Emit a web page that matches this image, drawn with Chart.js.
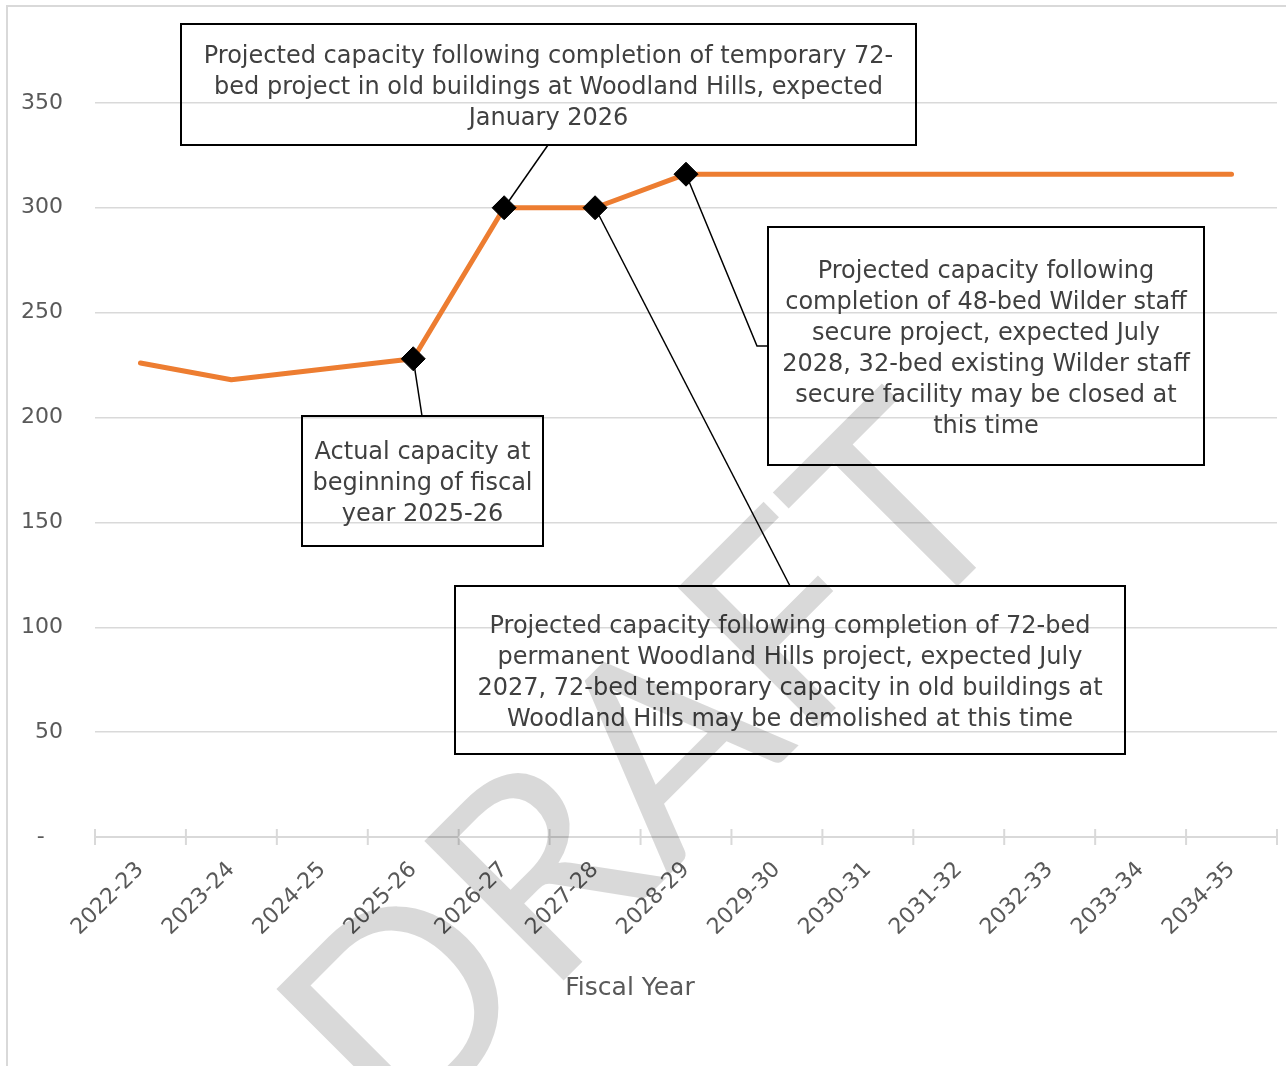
<!DOCTYPE html>
<html>
<head>
<meta charset="utf-8">
<script src="https://cdn.jsdelivr.net/npm/chart.js@4.4.1/dist/chart.umd.min.js"></script>
<style>
  html, body { margin: 0; padding: 0; background: #fff; overflow: hidden; }
  #wrap { position: absolute; left: 0; top: -2px; width: 1286px; height: 1068px; }
</style>
</head>
<body>
<div id="wrap"><canvas id="capChart"></canvas></div>
<script>
// chart data
const categories = ['2022-23', '2023-24', '2024-25', '2025-26', '2026-27', '2027-28', '2028-29',
                    '2029-30', '2030-31', '2031-32', '2032-33', '2033-34', '2034-35'];
const capacity = [226, 218, 223, 228, 300, 300, 316, 316, 316, 316, 316, 316, 316];
const yTickValues = [0, 50, 100, 150, 200, 250, 300, 350];
const xTitle = 'Fiscal Year';
const watermark = 'DRAFT';

const noteActual = ['Actual capacity at', 'beginning of fiscal', 'year 2025-26'];
const noteTemporary = ['Projected capacity following completion of temporary 72-',
                       'bed project in old buildings at Woodland Hills, expected',
                       'January 2026'];
const notePermanent = ['Projected capacity following completion of 72-bed',
                       'permanent Woodland Hills project, expected July',
                       '2027, 72-bed temporary capacity in old buildings at',
                       'Woodland Hills may be demolished at this time'];
const noteWilder = ['Projected capacity following',
                    'completion of 48-bed Wilder staff',
                    'secure project, expected July',
                    '2028, 32-bed existing Wilder staff',
                    'secure facility may be closed at',
                    'this time'];

// callout layout (page pixels): box = [left, top, width, height]
const OFFSET_Y = 2; // canvas sits 2px above the page top
const callouts = [
  { at: '2025-26', lines: noteActual, box: [302, 416, 241, 130], from: [422, 416] },
  { at: '2026-27', lines: noteTemporary, box: [181, 24, 735, 121], from: [548, 145] },
  { at: '2027-28', lines: notePermanent, box: [455, 586, 670, 168], from: [790, 586] },
  { at: '2028-29', lines: noteWilder, box: [768, 227, 436, 238], from: [768, 346], elbow: [757, 346] }
];
const marked = callouts.map(c => c.at);

const FONT = '"DejaVu Sans", sans-serif';
const GRID = '#d9d9d9';

const calloutPlugin = {
  id: 'callouts',
  beforeDraw(chart) {
    const c = chart.ctx;
    c.save();
    c.strokeStyle = GRID;
    c.lineWidth = 2;
    c.beginPath();
    c.moveTo(7, 2000);
    c.lineTo(7, 6 + OFFSET_Y);
    c.lineTo(2000, 6 + OFFSET_Y);
    c.stroke();
    c.restore();
  },
  beforeDatasetsDraw(chart) {
    const c = chart.ctx;
    const xs = chart.scales.x, ys = chart.scales.y;
    // tick marks across the category axis
    c.save();
    c.strokeStyle = GRID;
    c.lineWidth = 2;
    const axisY = ys.getPixelForValue(0);
    for (let i = 0; i <= categories.length; i++) {
      const px = xs.getPixelForValue(i - 0.5);
      c.beginPath();
      c.moveTo(px, axisY - 8);
      c.lineTo(px, axisY + 8);
      c.stroke();
    }
    c.restore();

    c.save();
    callouts.forEach(co => {
      const idx = categories.indexOf(co.at);
      const px = xs.getPixelForValue(idx);
      const py = ys.getPixelForValue(capacity[idx]);
      c.strokeStyle = '#000';
      c.lineWidth = 1.5;
      c.beginPath();
      c.moveTo(px, py);
      if (co.elbow) c.lineTo(co.elbow[0], co.elbow[1] + OFFSET_Y);
      c.lineTo(co.from[0], co.from[1] + OFFSET_Y);
      c.stroke();

      const [bx, by, bw, bh] = co.box;
      c.lineWidth = 2;
      c.strokeRect(bx, by + OFFSET_Y, bw, bh);

      c.fillStyle = '#404040';
      c.font = '24px ' + FONT;
      c.textAlign = 'center';
      c.textBaseline = 'middle';
      const lh = 31;
      const cy = by + OFFSET_Y + bh / 2 + 3;
      const first = cy - (co.lines.length - 1) * lh / 2;
      co.lines.forEach((t, i) => c.fillText(t, bx + bw / 2, first + i * lh));
    });
    c.restore();
  },
  afterDraw(chart) {
    const c = chart.ctx;
    c.save();
    c.fillStyle = '#595959';
    c.font = '25px ' + FONT;
    c.textAlign = 'center';
    c.textBaseline = 'middle';
    c.fillText(xTitle, 630, 988 + OFFSET_Y);

    // watermark laid over the whole chart
    const size = 275;
    c.translate(641, 763 + OFFSET_Y);
    c.rotate(-Math.PI / 4);
    c.font = size + 'px Lato, sans-serif';
    c.fillStyle = 'rgba(0,0,0,0.15)';
    c.textAlign = 'center';
    c.textBaseline = 'alphabetic';
    c.fillText(watermark, 0, size * 0.36);
    c.restore();
  }
};

const ctx = document.getElementById('capChart').getContext('2d');
const chart = new Chart(ctx, {
  type: 'line',
  data: {
    labels: categories,
    datasets: [{
      label: 'Capacity',
      data: capacity,
      borderColor: '#ED7D31',
      borderWidth: 5,
      borderCapStyle: 'round',
      borderJoinStyle: 'round',
      tension: 0,
      pointStyle: 'rectRot',
      pointRadius: c => marked.includes(categories[c.dataIndex]) ? 12 : 0,
      pointHoverRadius: 0,
      pointBackgroundColor: '#000',
      pointBorderColor: '#000',
      pointBorderWidth: 1
    }]
  },
  options: {
    responsive: true,
    maintainAspectRatio: false,
    animation: false,
    devicePixelRatio: 1,
    layout: { autoPadding: false, padding: { left: 0, right: 9, top: 0, bottom: 0 } },
    plugins: {
      legend: { display: false },
      tooltip: { enabled: false }
    },
    scales: {
      x: {
        offset: true,
        grid: { display: false },
        border: { display: true, color: GRID, width: 2 },
        ticks: {
          autoSkip: false,
          maxRotation: 45,
          minRotation: 45,
          padding: 12,
          color: '#595959',
          font: { family: FONT, size: 22 }
        },
        afterFit: s => { s.height = 229; }
      },
      y: {
        min: 0,
        max: 400,
        afterBuildTicks: s => { s.ticks = yTickValues.map(v => ({ value: v })); },
        grid: { color: GRID, lineWidth: 1.5, drawTicks: true, tickLength: 32, tickColor: 'rgba(0,0,0,0)' },
        border: { display: false },
        ticks: {
          padding: 0,
          color: '#595959',
          font: { family: FONT, size: 22 },
          callback: v => v === 0 ? '-  \u2009' : v
        },
        afterFit: s => { s.width = 95; s.paddingTop = 0; s.paddingBottom = 0; }
      }
    }
  },
  plugins: [calloutPlugin]
});
</script>
</body>
</html>
